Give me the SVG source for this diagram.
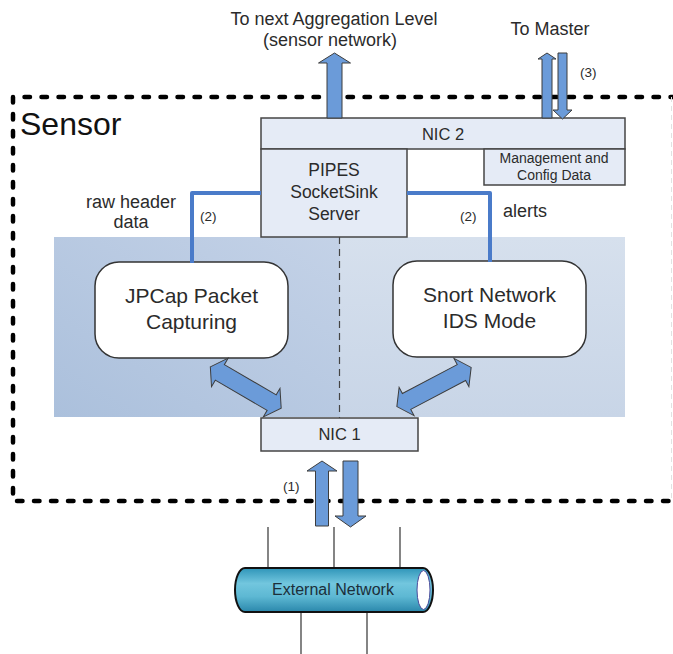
<svg xmlns="http://www.w3.org/2000/svg" width="673" height="654" viewBox="0 0 673 654">
<defs>
<style>
text{font-family:"Liberation Sans",Arial,sans-serif;fill:#2b2b2b;}
.box{fill:#e5ebf6;stroke:#454545;stroke-width:1.5;}
.proc{fill:#ffffff;stroke:#333;stroke-width:1.5;}
.arr{fill:#6b9bd9;stroke:#3d3d3d;stroke-width:1;}
.conn{fill:none;stroke:#4a7bc9;stroke-width:4;stroke-linejoin:round;}
.net{stroke:#333;stroke-width:1.2;}
</style>
<linearGradient id="gl" x1="0" y1="1" x2="1" y2="0">
<stop offset="0" stop-color="#abc0dc"/>
<stop offset="1" stop-color="#c4d2e7"/>
</linearGradient>
<linearGradient id="gr" x1="0" y1="0" x2="0" y2="1">
<stop offset="0" stop-color="#d6e0ed"/>
<stop offset="1" stop-color="#c8d5e7"/>
</linearGradient>
<linearGradient id="gc" x1="0" y1="0" x2="0" y2="1">
<stop offset="0" stop-color="#2f95b9"/>
<stop offset="0.35" stop-color="#72c6de"/>
<stop offset="0.65" stop-color="#5db8d3"/>
<stop offset="1" stop-color="#2a87ab"/>
</linearGradient>
</defs>

<g id="sensor">
<path d="M676,97 H13 V501 H676" fill="none" stroke="#000" stroke-width="4.5" stroke-dasharray="5.5 11.5" stroke-linecap="round"/>
<line x1="671.5" y1="97" x2="671.5" y2="501" stroke="#e2e2e2" stroke-width="1" stroke-dasharray="5 4"/>
<text x="20" y="135" font-size="32" style="fill:#111">Sensor</text>
</g>

<g id="shading">
<rect x="54" y="237" width="286" height="180" fill="url(#gl)"/>
<rect x="340" y="237" width="285" height="180" fill="url(#gr)"/>
<line x1="339.5" y1="237" x2="339.5" y2="418" stroke="#444" stroke-width="1.2" stroke-dasharray="7 5"/>
</g>

<g id="nic2">
<rect class="box" x="261" y="118" width="364" height="31"/>
<text x="443" y="140" font-size="16.5" text-anchor="middle">NIC 2</text>
</g>

<g id="pipes">
<rect class="box" x="261" y="149" width="146" height="88"/>
<text x="334" y="176" font-size="17.5" text-anchor="middle">PIPES</text>
<text x="334" y="198" font-size="17.5" text-anchor="middle">SocketSink</text>
<text x="334" y="220" font-size="17.5" text-anchor="middle">Server</text>
</g>

<g id="mgmt">
<rect class="box" x="484" y="149" width="141" height="36"/>
<text x="554" y="163" font-size="14" text-anchor="middle">Management and</text>
<text x="554" y="180" font-size="14" text-anchor="middle">Config Data</text>
</g>

<g id="jpcap">
<rect class="proc" x="95" y="262" width="193" height="96" rx="24" ry="24"/>
<text x="191.5" y="303" font-size="21" text-anchor="middle">JPCap Packet</text>
<text x="191.5" y="329" font-size="21" text-anchor="middle">Capturing</text>
</g>

<g id="snort">
<rect class="proc" x="393" y="261" width="193" height="96" rx="24" ry="24"/>
<text x="489.5" y="302" font-size="21" text-anchor="middle">Snort Network</text>
<text x="489.5" y="328" font-size="21" text-anchor="middle">IDS Mode</text>
</g>

<g id="nic1">
<rect class="box" x="261" y="418" width="157" height="33"/>
<text x="339.5" y="440" font-size="16.5" text-anchor="middle">NIC 1</text>
</g>

<g id="extnet">
<line class="net" x1="268" y1="527" x2="268" y2="568"/>
<line class="net" x1="334" y1="527" x2="334" y2="568"/>
<line class="net" x1="400" y1="527" x2="400" y2="568"/>
<line class="net" x1="301" y1="612" x2="301" y2="654"/>
<line class="net" x1="367" y1="612" x2="367" y2="654"/>
<path d="M245,568 H423 A10,22 0 0 1 423,612 H245 A10,22 0 0 1 245,568 Z" fill="url(#gc)" stroke="#111" stroke-width="2"/>
<ellipse cx="423.5" cy="590" rx="6.5" ry="19.5" fill="#fff" stroke="#4a4a9a" stroke-width="1"/>
<text x="333" y="595" font-size="16" text-anchor="middle" style="fill:#1c2f3a">External Network</text>
</g>

<g id="connectors">
<polyline class="conn" points="261,193 192,193 192,263"/>
<polyline class="conn" points="407,193 490,193 490,262"/>
<path class="arr" transform="translate(245.75,387.5) rotate(30.2)" d="M-41,0 L-30,-16.5 L-30,-9 L30,-9 L30,-16.5 L41,0 L30,16.5 L30,9 L-30,9 L-30,16.5 Z"/>
<path class="arr" transform="translate(434,387) rotate(-27.8)" d="M-42,0 L-31,-16 L-31,-9 L31,-9 L31,-16 L42,0 L31,16 L31,9 L-31,9 L-31,16 Z"/>
<path class="arr" d="M322,461 L337,471 L328.5,471 L328.5,526 L315.5,526 L315.5,471 L307,471 Z"/>
<path class="arr" d="M350.5,527 L366,516 L358,516 L358,461 L343,461 L343,516 L335,516 Z"/>
<path class="arr" d="M334.5,53 L350.5,63 L342,63 L342,118 L327,118 L327,63 L318.5,63 Z"/>
<path class="arr" d="M547,53 L556,59 L552,59 L552,118 L542,118 L542,59 L538,59 Z"/>
<path class="arr" d="M562.5,119 L572,110 L567,110 L567,53 L558,53 L558,110 L553,110 Z"/>
</g>

<g id="labels">
<text x="334" y="25" font-size="18" text-anchor="middle">To next Aggregation Level</text>
<text x="330" y="46" font-size="18" text-anchor="middle">(sensor network)</text>
<text x="550" y="35" font-size="18" text-anchor="middle">To Master</text>
<text x="580" y="77" font-size="13.5">(3)</text>
<text x="131" y="208" font-size="18" text-anchor="middle">raw header</text>
<text x="131" y="228" font-size="18" text-anchor="middle">data</text>
<text x="200" y="221" font-size="13.5">(2)</text>
<text x="460" y="221" font-size="13.5">(2)</text>
<text x="503" y="217" font-size="18">alerts</text>
<text x="283" y="491" font-size="13.5">(1)</text>
</g>
</svg>
